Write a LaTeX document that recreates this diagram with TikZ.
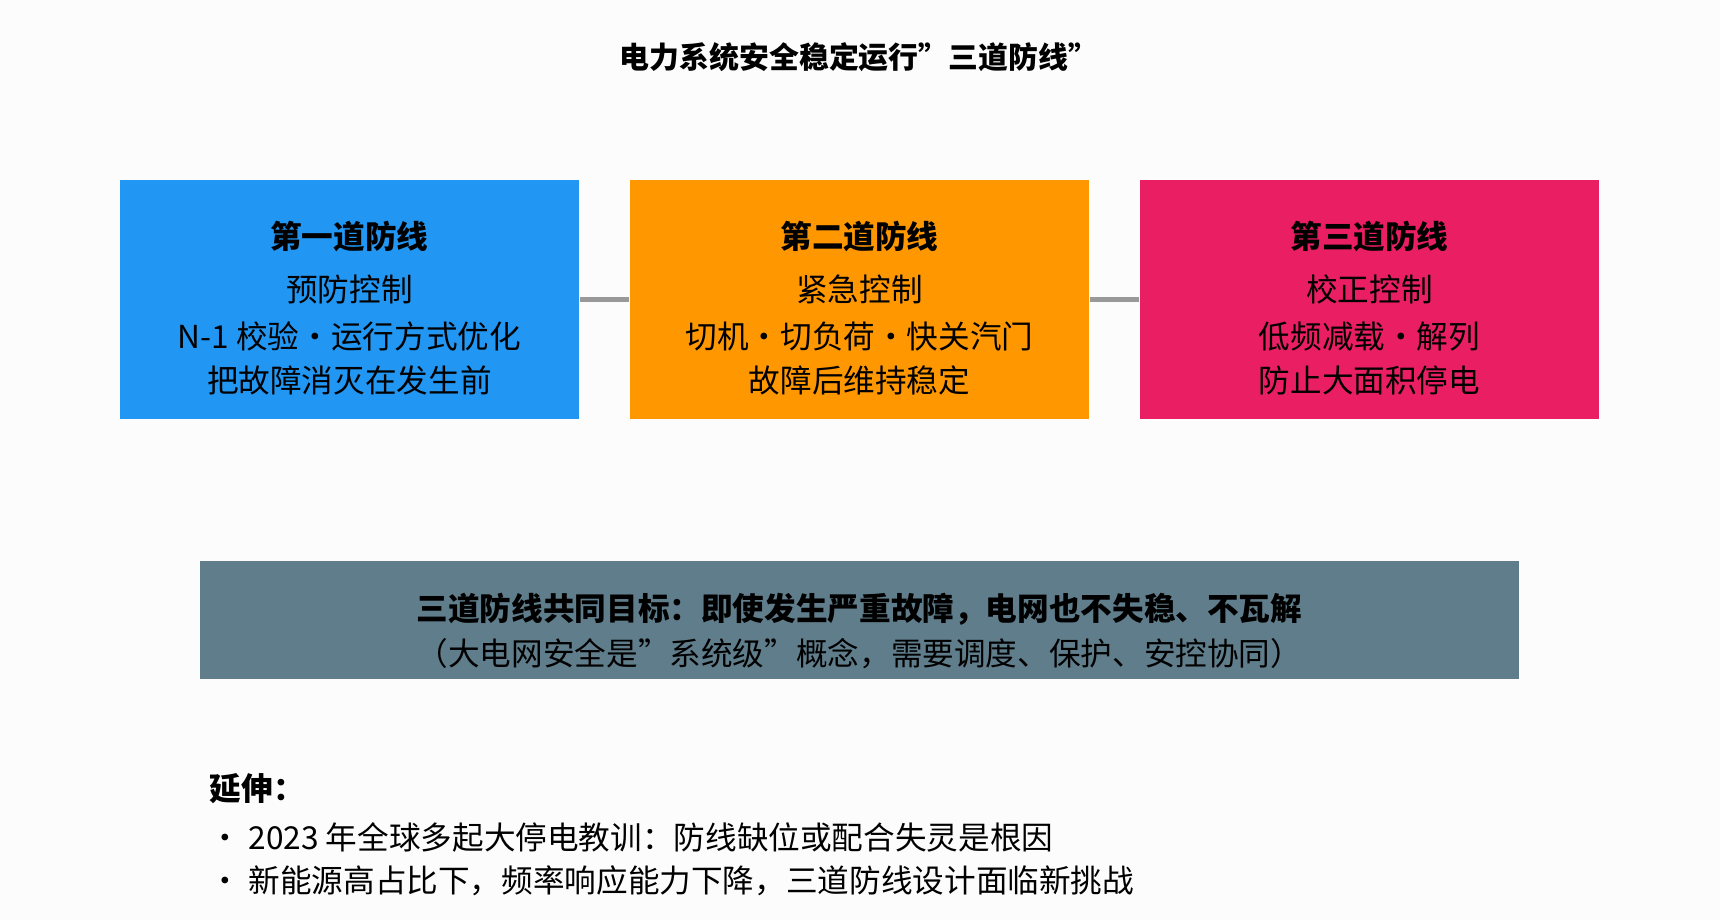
\documentclass[tikz,border=0pt]{standalone}
\usepackage{fontspec}
\setmainfont{Noto Sans CJK SC}
\begin{document}
\begin{tikzpicture}[x=0.010969cm,y=-0.010969cm,
  box/.style={draw=none,minimum width=419*0.010969cm,minimum height=218*0.010969cm,inner sep=0},
  btxt/.style={font=\fontsize{9pt}{11pt}\selectfont,text=black},
  conn/.style={draw=gray!80,line width=1.2pt}]
\fill[white!98!gray] (0,0) rectangle (1568,839);
\useasboundingbox (0,0) rectangle (1568,839);
\node[font=\fontsize{8.5pt}{10pt}\selectfont\bfseries] (title) at (783,52) {电力系统安全稳定运行"三道防线"};
\node[box,fill={rgb,255:red,33;green,150;blue,243}] (b1) at (318.5,273) {};
\node[box,fill={rgb,255:red,255;green,152;blue,0}] (b2) at (783.5,273) {};
\node[box,fill={rgb,255:red,233;green,30;blue,99}] (b3) at (1248.5,273) {};
\draw[conn] (b1.east) -- (b2.west);
\draw[conn] (b2.east) -- (b3.west);
\foreach \n/\x/\t/\a/\b/\c in {t1/318.5/第一道防线/预防控制/N-1 校验·运行方式优化/把故障消灭在发生前,
  t2/783.5/第二道防线/紧急控制/切机·切负荷·快关汽门/故障后维持稳定,
  t3/1248.5/第三道防线/校正控制/低频减载·解列/防止大面积停电}{
  \node[btxt,font=\fontsize{9pt}{11pt}\selectfont\bfseries] (\n h) at (\x,216) {\t};
  \node[btxt] (\n a) at (\x,264) {\a};
  \node[btxt] (\n b) at (\x,307) {\b};
  \node[btxt] (\n c) at (\x,347) {\c};
}
\node[draw=none,fill={rgb,255:red,96;green,125;blue,139},minimum width=1203*0.010969cm,minimum height=108*0.010969cm] (g) at (783.5,565) {};
\node[btxt,font=\fontsize{9pt}{11pt}\selectfont\bfseries] (g1) at (783.5,555) {三道防线共同目标：即使发生严重故障，电网也不失稳、不瓦解};
\node[btxt] (g2) at (783.5,596) {（大电网安全是"系统级"概念，需要调度、保护、安控协同）};
\node[btxt,anchor=west,font=\fontsize{9pt}{11pt}\selectfont\bfseries] (e0) at (180,719) {延伸：};
\node[btxt,anchor=west] (e1) at (180,763) {· 2023 年全球多起大停电教训：防线缺位或配合失灵是根因};
\node[btxt,anchor=west] (e2) at (180,803) {· 新能源高占比下，频率响应能力下降，三道防线设计面临新挑战};
\end{tikzpicture}
\end{document}
